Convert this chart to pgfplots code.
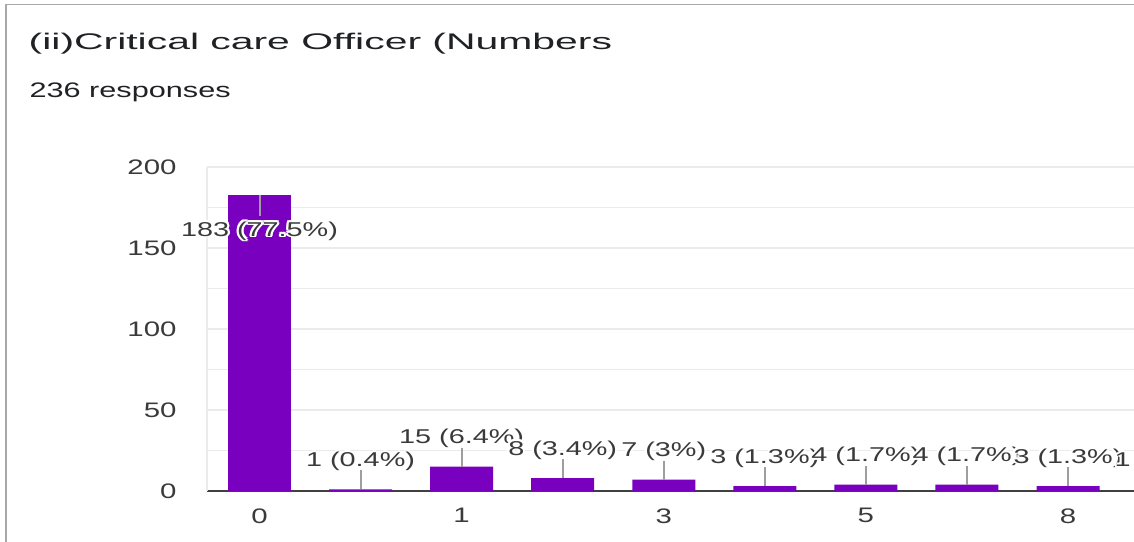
\documentclass[border=0pt]{standalone}
\usepackage{pgfplots}
\pgfplotsset{compat=1.18}
\usepackage{pgfplotstable}
\usepackage{fontspec}
\setmainfont{Liberation Sans}
\definecolor{barc}{RGB}{120,0,190}
\definecolor{txt}{HTML}{3A3A3A}
\definecolor{ttl}{HTML}{202124}
\definecolor{gridc}{HTML}{EBEBEB}
\definecolor{lead}{HTML}{9E9E9E}
\definecolor{framec}{HTML}{A8A8A8}

\newcommand\halo[1]{{\setbox0\hbox{#1}%
 \rlap{\color{white}\kern-0.8pt\copy0}%
 \rlap{\color{white}\kern0.8pt\copy0}%
 \rlap{\color{white}\raise0.8pt\copy0}%
 \rlap{\color{white}\lower0.8pt\copy0}%
 \rlap{\color{white}\kern-0.6pt\raise0.6pt\copy0}%
 \rlap{\color{white}\kern0.6pt\raise0.6pt\copy0}%
 \rlap{\color{white}\kern-0.6pt\lower0.6pt\copy0}%
 \rlap{\color{white}\kern0.6pt\lower0.6pt\copy0}%
 \box0}}

\pgfplotstableread[col sep=comma]{
x,y,e,lab
0,183,13,183 (77.5\%)
}\firstdata

\pgfplotstableread[col sep=comma]{
x,y,e,lab
1,1,11.7,1 (0.4\%)
2,15,11.7,15 (6.4\%)
3,8,11.7,8 (3.4\%)
4,7,11.7,7 (3\%)
5,3,11.7,3 (1.3\%)
6,4,11.7,4 (1.7\%)
7,4,11.7,4 (1.7\%)
8,3,11.7,3 (1.3\%)
9,1,11.7,1 (0.4\%)
}\othersdata

\begin{document}
\begin{tikzpicture}
\begin{axis}[
 at={(103.5pt,25pt)}, anchor=south west,
 scale only axis, width=506.3pt, height=162pt,
 xmin=-0.5195, xmax=9.5, ymin=0, ymax=200,
 xtick={0,2,4,6,8}, xticklabels={0,1,3,5,8},
 ytick={0,50,...,200}, minor ytick={25,75,125,175},
 ymajorgrids, yminorgrids,
 major grid style={draw=gridc, line width=0.6pt},
 minor grid style={draw=gridc, line width=0.6pt},
 axis x line*=bottom, axis y line*=left,
 x axis line style={draw=black!75, line width=1pt},
 y axis line style={draw=gridc, line width=0.6pt},
 major tick length=0pt, minor tick length=0pt,
 tick style={draw=none},
 ticklabel style={font=\fontsize{10.5}{12}\selectfont, text=txt, xscale=1.4, inner sep=0pt},
 yticklabel style={anchor=east, xshift=-10.7pt},
 xticklabel style={anchor=north, yshift=-8.5pt},
 /pgf/number format/assume math mode=true,
 clip=false,
]
\addplot[ybar, bar width=31.5pt, bar shift=0pt, fill=barc, draw=none,
  point meta=explicit symbolic,
  nodes near coords={\halo{\pgfplotspointmeta}},
  every node near coord/.append style={anchor=base, yshift=-20.75pt,
     font=\fontsize{10}{12}\selectfont, text=txt, xscale=1.44, inner sep=0pt},
  error bars/.cd, y dir=minus, y explicit, error mark=none,
  error bar style={draw=lead, line width=1pt}]
 table[x=x, y=y, y error minus=e, meta=lab] {\firstdata};
\addplot[ybar, bar width=31.5pt, bar shift=0pt, fill=barc, draw=none,
  point meta=explicit symbolic,
  nodes near coords={\halo{\pgfplotspointmeta}},
  every node near coord/.append style={anchor=base, yshift=11.5pt,
     font=\fontsize{10}{12}\selectfont, text=txt, xscale=1.44, inner sep=0pt},
  error bars/.cd, y dir=plus, y explicit, error mark=none,
  error bar style={draw=lead, line width=1pt}]
 table[x=x, y=y, y error plus=e, meta=lab] {\othersdata};
\end{axis}
\node[anchor=base west, inner sep=0pt, xscale=1.81, text=ttl,
  font=\fontsize{11.3}{13}\selectfont] at (14pt,245.5pt) {(ii)Critical care Officer (Numbers};
\node[anchor=base west, inner sep=0pt, xscale=1.46, text=ttl,
  font=\fontsize{10.5}{12}\selectfont] at (14.5pt,221.5pt) {236 responses};
\draw[framec, line width=0.8pt] (2.9pt,-5pt) -- (2.9pt,268.2pt) -- (600pt,268.2pt);
\pgfresetboundingbox
\useasboundingbox (0,0) rectangle (567pt,270.5pt);
\end{tikzpicture}
\end{document}
